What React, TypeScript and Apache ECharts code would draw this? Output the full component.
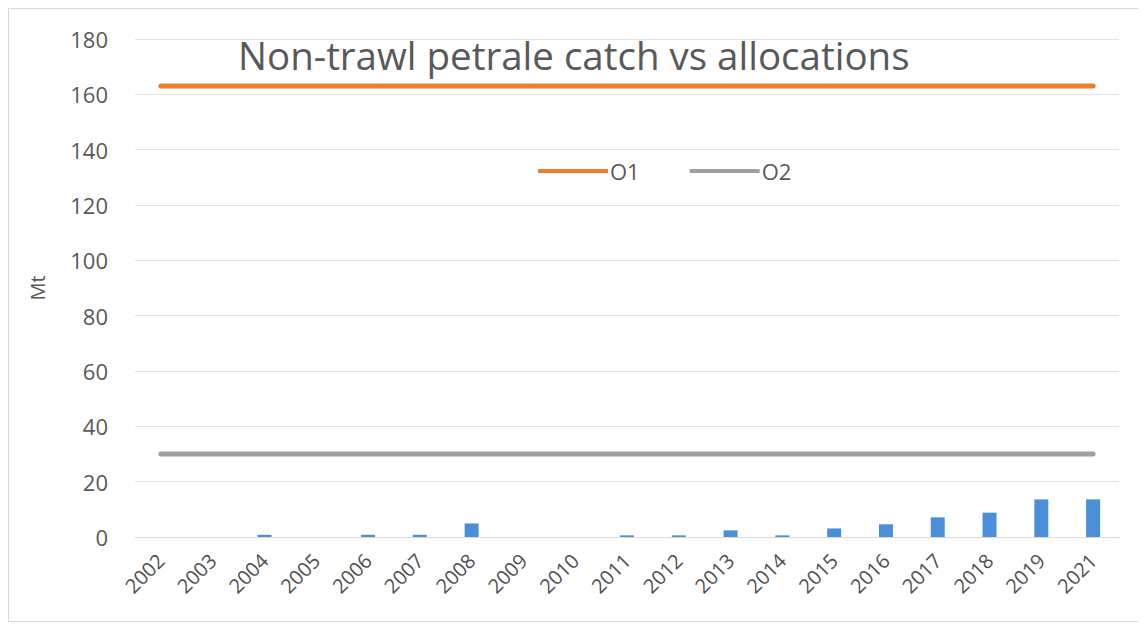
import React, { useEffect, useRef } from "react";
import * as echarts from "echarts";

const years = ["2002","2003","2004","2005","2006","2007","2008","2009","2010","2011","2012","2013","2014","2015","2016","2017","2018","2019","2021"];
const catchValues = [0, 0, 0.8, 0, 0.8, 0.8, 4.9, 0, 0, 0.6, 0.6, 2.4, 0.6, 3.1, 4.6, 7.1, 8.8, 13.6, 13.6];
const o1Values = [163,163,163,163,163,163,163,163,163,163,163,163,163,163,163,163,163,163,163];
const o2Values = [30,30,30,30,30,30,30,30,30,30,30,30,30,30,30,30,30,30,30];
const yTicks = { min: 0, max: 180, interval: 20 };

export default function App() {
  const ref = useRef<HTMLDivElement>(null);
  useEffect(() => {
    if (!ref.current) return;
    const chart = echarts.init(ref.current, null, { renderer: "svg" });
    const font = "'Open Sans', 'Liberation Sans', sans-serif";
    chart.setOption({
      animation: false,
      textStyle: { fontFamily: font },
      title: {
        text: "Non-trawl petrale catch vs allocations",
        left: 224,
        top: 21,
        textStyle: { fontSize: 38.5, fontWeight: "normal", color: "#595959", fontFamily: font },
      },
      legend: {
        data: ["O1", "O2"],
        left: 524,
        top: 146,
        icon: "rect",
        itemWidth: 70,
        itemHeight: 4,
        itemGap: 50,
        textStyle: { fontSize: 22, color: "#595959", padding: [0, 0, 0, -3] },
      },
      grid: { left: 126, right: 20, top: 30, bottom: 84 },
      xAxis: {
        type: "category",
        data: years,
        axisLine: { lineStyle: { color: "#d9d9d9" } },
        axisTick: { show: false },
        axisLabel: { rotate: 45, fontSize: 20, color: "#505050", margin: 20, interval: 0 },
      },
      yAxis: {
        type: "value",
        min: yTicks.min,
        max: yTicks.max,
        interval: yTicks.interval,
        name: "Mt",
        nameLocation: "middle",
        nameGap: 88,
        nameTextStyle: { fontSize: 20, color: "#595959" },
        axisLine: { show: false },
        axisTick: { show: false },
        axisLabel: { fontSize: 22, color: "#595959", margin: 27 },
        splitLine: { lineStyle: { color: "#e3e3e3", width: 1 } },
      },
      series: [
        {
          name: "Catch",
          type: "bar",
          data: catchValues,
          barWidth: 14,
          itemStyle: { color: "#4a8fd8" },
        },
        {
          name: "O1",
          type: "line",
          data: o1Values,
          symbol: "none",
          lineStyle: { color: "#ed7d31", width: 5, cap: "round" },
          itemStyle: { color: "#ed7d31" },
        },
        {
          name: "O2",
          type: "line",
          data: o2Values,
          symbol: "none",
          lineStyle: { color: "#a0a0a0", width: 5, cap: "round" },
          itemStyle: { color: "#a0a0a0" },
        },
      ],
    });
    return () => chart.dispose();
  }, []);
  return (
    <div
      ref={ref}
      style={{ width: 1130, height: 612, border: "1px solid #d9d9d9", background: "#fff" }}
    />
  );
}
